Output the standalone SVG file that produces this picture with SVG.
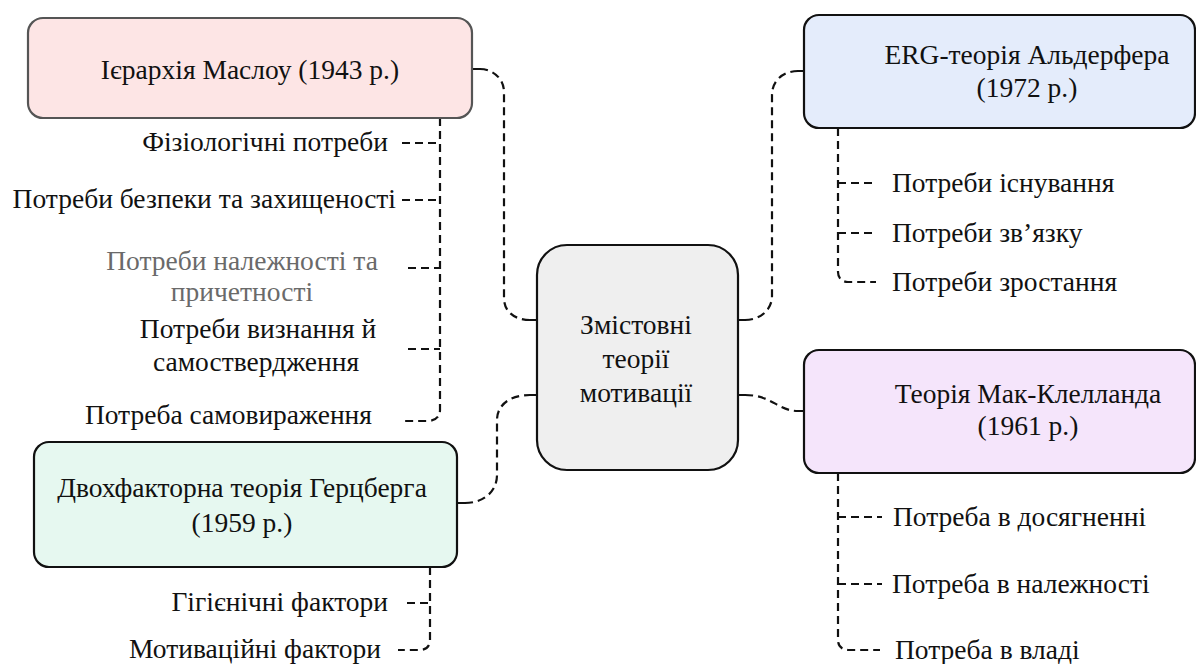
<svg xmlns="http://www.w3.org/2000/svg" width="1196" height="664" viewBox="0 0 1196 664">
<style>
.t{font-family:'Liberation Serif','DejaVu Serif',serif;font-size:27.5px;fill:#111}
.box{stroke:#111;stroke-width:2.2}
.dash{fill:none;stroke:#111;stroke-width:2.2;stroke-dasharray:8 5}
.stub{fill:none;stroke:#111;stroke-width:2.2}
.grey{fill:#6a6a6a}
</style>
<rect width="1196" height="664" fill="#fff"/>
<g id="connectors">
<path class="stub" d="M472,69H480M530,320H537M457,503H465M530,395H537M738,320H745M798,71H804M738,395H745M798,411H804"/>
<path class="dash" d="M480,69C492,69 504,78 504,92V298C504,312 515,320 530,320"/>
<path class="dash" d="M465,503C483,503 497,492 497,475V420C497,405 510,395 530,395"/>
<path class="dash" d="M745,320C760,320 772,310 772,296V95C772,80 784,71 798,71"/>
<path class="dash" d="M745,395C772,395 778,411 798,411"/>
<path class="dash" d="M440,118V410C440,417 435,421 427,421H405"/>
<path class="dash" d="M402,143H440M402,200H440M408,268H440M408,349H440"/>
<path class="dash" d="M430,567V640C430,646 426,650 420,650H398"/>
<path class="dash" d="M407,603H430"/>
<path class="dash" d="M838,128V272C838,278 842,282 848,282H876"/>
<path class="dash" d="M838,183H876M838,233H876"/>
<path class="dash" d="M838,473V640C838,646 842,650 848,650H880"/>
<path class="dash" d="M838,517H882M838,584H882"/>
</g>
<g id="center">
<rect class="box" x="537" y="245" width="201" height="225" rx="30" fill="#efefef"/>
<text class="t" x="636" y="334" text-anchor="middle">Змістовні</text>
<text class="t" x="636" y="368" text-anchor="middle">теорії</text>
<text class="t" x="636" y="402" text-anchor="middle">мотивації</text>
</g>
<g id="maslow">
<rect x="28" y="18" width="444" height="100" rx="15" fill="#fde5e5" stroke="#555" stroke-width="2.2"/>
<text class="t" x="250" y="79" text-anchor="middle">Ієрархія Маслоу (1943 р.)</text>
</g>
<g id="maslow-leaves">
<text class="t" x="388" y="151" text-anchor="end">Фізіологічні потреби</text>
<text class="t" x="396" y="208" text-anchor="end">Потреби безпеки та захищеності</text>
<text class="t grey" x="242" y="270" text-anchor="middle">Потреби належності та</text>
<text class="t grey" x="242" y="301" text-anchor="middle">причетності</text>
<text class="t" x="258" y="338" text-anchor="middle">Потреби визнання й</text>
<text class="t" x="256" y="371" text-anchor="middle">самоствердження</text>
<text class="t" x="372" y="424" text-anchor="end">Потреба самовираження</text>
</g>
<g id="herzberg">
<rect class="box" x="34" y="442" width="423" height="125" rx="15" fill="#e6f8f0"/>
<text class="t" x="242" y="497" text-anchor="middle">Двохфакторна теорія Герцберга</text>
<text class="t" x="242" y="532" text-anchor="middle">(1959 р.)</text>
</g>
<g id="herzberg-leaves">
<text class="t" x="388" y="611" text-anchor="end">Гігієнічні фактори</text>
<text class="t" x="381" y="658" text-anchor="end">Мотиваційні фактори</text>
</g>
<g id="erg">
<rect class="box" x="804" y="15" width="391" height="113" rx="15" fill="#e4ecfb"/>
<text class="t" x="1027" y="64" text-anchor="middle">ERG-теорія Альдерфера</text>
<text class="t" x="1027" y="97" text-anchor="middle">(1972 р.)</text>
</g>
<g id="erg-leaves">
<text class="t" x="892" y="192">Потреби існування</text>
<text class="t" x="892" y="242">Потреби зв’язку</text>
<text class="t" x="892" y="291">Потреби зростання</text>
</g>
<g id="mcclelland">
<rect class="box" x="804" y="350" width="391" height="123" rx="15" fill="#f5e5fb"/>
<text class="t" x="1028" y="403" text-anchor="middle">Теорія Мак-Клелланда</text>
<text class="t" x="1028" y="435" text-anchor="middle">(1961 р.)</text>
</g>
<g id="mcclelland-leaves">
<text class="t" x="893" y="526">Потреба в досягненні</text>
<text class="t" x="892" y="593">Потреба в належності</text>
<text class="t" x="895" y="659">Потреба в владі</text>
</g>
</svg>
